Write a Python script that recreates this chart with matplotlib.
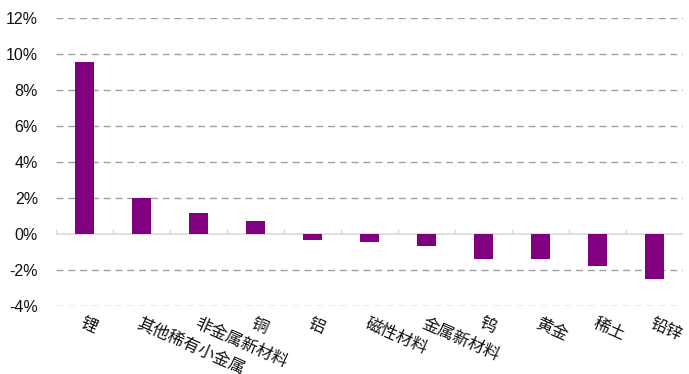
import matplotlib
matplotlib.use('Agg')
import matplotlib.pyplot as plt
import matplotlib.transforms as mtransforms
import numpy as np

plt.rcParams['font.family'] = ['Liberation Sans', 'DejaVu Sans']

categories = ['锂', '其他稀有小金属', '非金属新材料', '铜', '铝', '磁性材料',
              '金属新材料', '钨', '黄金', '稀土', '铅锌']
changes = [9.55, 2.0, 1.18, 0.70, -0.33, -0.47, -0.69, -1.39, -1.38, -1.80, -2.50]
yticks = [-4, -2, 0, 2, 4, 6, 8, 10, 12]

fig = plt.figure(figsize=(6.89, 3.74), dpi=100)
ax = fig.add_axes([0.0813, 0.1818, 0.9097, 0.7701])

x = np.arange(len(categories))
ax.bar(x, changes, width=0.34, color='#800080', zorder=3)

ax.set_xlim(-0.5, len(categories) - 0.5)
ax.set_ylim(-4, 12)
ax.set_yticks(yticks)
ax.set_yticklabels([f'{v}%' for v in yticks], fontsize=11.5, color='#111111')
ax.tick_params(axis='y', length=0, pad=13)

for v in yticks:
    if v != 0:
        ax.axhline(v, color='#a0a0a0', lw=1, ls=(0, (5, 3.5)), zorder=1)
ax.axhline(0, color='#d9d9d9', lw=1.2, zorder=2)
ax.vlines(np.arange(len(categories) + 1) - 0.5, 0, 0.28, color='#d9d9d9', lw=1, zorder=2)

for s in ax.spines.values():
    s.set_visible(False)
ax.set_xticks([])

offset = mtransforms.ScaledTranslation(0 / 100, -9 / 100, fig.dpi_scale_trans)
trans = mtransforms.blended_transform_factory(ax.transData, ax.transAxes) + offset
for xi, name in zip(x, categories):
    ax.text(xi, 0, name, transform=trans, rotation=-24, ha='left', va='top',
            rotation_mode='anchor', fontsize=12, fontweight='light',
            family=['Noto Sans CJK SC', 'DejaVu Sans'], color='#111111')

fig.savefig('out.png', dpi=100)
